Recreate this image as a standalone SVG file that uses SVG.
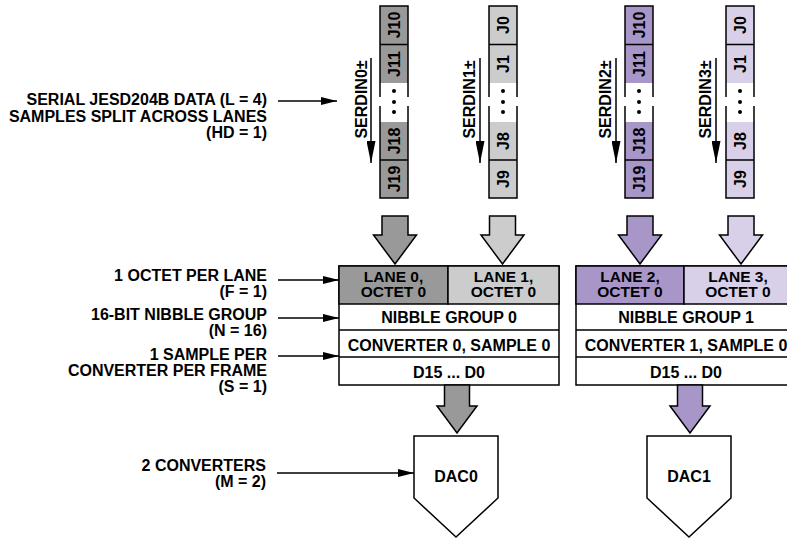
<svg xmlns="http://www.w3.org/2000/svg" width="787" height="539" viewBox="0 0 787 539">
<style>
text{font-family:"Liberation Sans",Arial,sans-serif;font-weight:bold;font-size:16px;fill:#000}
.r{text-anchor:end}
.m{text-anchor:middle}
.s{font-size:15.5px}
.ln{stroke:#000;stroke-width:1.5;fill:none}
.bx{stroke:#000;stroke-width:1.5}
.g0{fill:#999999}.g1{fill:#cccccc}.p0{fill:#a996c9}.p1{fill:#d8d0e8}
</style>
<defs>
<marker id="ah" markerUnits="userSpaceOnUse" markerWidth="16" markerHeight="8" refX="16" refY="4" orient="auto"><path d="M0,0 L16,4 L0,8 Z" fill="#000"/></marker>
<marker id="ah2" markerUnits="userSpaceOnUse" markerWidth="22" markerHeight="9" refX="22" refY="4.5" orient="auto"><path d="M0,0 L22,4.5 L0,9 Z" fill="#000"/></marker>
</defs>
<rect width="787" height="539" fill="#fff"/>

<g id="labels">
<text class="r" x="267" y="105">SERIAL JESD204B DATA (L = 4)</text>
<text class="r" x="267" y="121.5">SAMPLES SPLIT ACROSS LANES</text>
<text class="r" x="267" y="138">(HD = 1)</text>
<text class="r" x="267" y="281">1 OCTET PER LANE</text>
<text class="r" x="267" y="296.5">(F = 1)</text>
<text class="r" x="267" y="320">16-BIT NIBBLE GROUP</text>
<text class="r" x="267" y="336">(N = 16)</text>
<text class="r" x="267" y="360">1 SAMPLE PER</text>
<text class="r" x="267" y="376">CONVERTER PER FRAME</text>
<text class="r" x="267" y="391.5">(S = 1)</text>
<text class="r" x="266" y="471">2 CONVERTERS</text>
<text class="r" x="266" y="487">(M = 2)</text>
</g>

<g id="lane0">
<rect class="g0" x="380" y="6" width="28" height="77"/>
<rect class="g0" x="380" y="122" width="28" height="76"/>
<path class="ln" d="M380,97 V6 H408 V97 M380,106 V198 H408 V106 M380,44.5 H408 M380,160 H408"/>
<circle cx="394" cy="91" r="2"/><circle cx="394" cy="102" r="2"/><circle cx="394" cy="112" r="2"/>
<text class="m" transform="translate(399.5,25) rotate(-90)">J10</text>
<text class="m" transform="translate(399.5,64) rotate(-90)">J11</text>
<text class="m" transform="translate(399.5,141) rotate(-90)">J18</text>
<text class="m" transform="translate(399.5,179) rotate(-90)">J19</text>
<text class="m" transform="translate(367,99.5) rotate(-90)">SERDIN0±</text>
</g>
<g id="lane1">
<rect class="g1" x="489" y="6" width="28" height="77"/>
<rect class="g1" x="489" y="122" width="28" height="76"/>
<path class="ln" d="M489,97 V6 H517 V97 M489,106 V198 H517 V106 M489,44.5 H517 M489,160 H517"/>
<circle cx="503" cy="91" r="2"/><circle cx="503" cy="102" r="2"/><circle cx="503" cy="112" r="2"/>
<text class="m" transform="translate(508.5,25) rotate(-90)">J0</text>
<text class="m" transform="translate(508.5,64) rotate(-90)">J1</text>
<text class="m" transform="translate(508.5,141) rotate(-90)">J8</text>
<text class="m" transform="translate(508.5,179) rotate(-90)">J9</text>
<text class="m" transform="translate(475,99.5) rotate(-90)">SERDIN1±</text>
</g>
<g id="lane2">
<rect class="p0" x="625" y="6" width="28" height="77"/>
<rect class="p0" x="625" y="122" width="28" height="76"/>
<path class="ln" d="M625,97 V6 H653 V97 M625,106 V198 H653 V106 M625,44.5 H653 M625,160 H653"/>
<circle cx="639" cy="91" r="2"/><circle cx="639" cy="102" r="2"/><circle cx="639" cy="112" r="2"/>
<text class="m" transform="translate(644.5,25) rotate(-90)">J10</text>
<text class="m" transform="translate(644.5,64) rotate(-90)">J11</text>
<text class="m" transform="translate(644.5,141) rotate(-90)">J18</text>
<text class="m" transform="translate(644.5,179) rotate(-90)">J19</text>
<text class="m" transform="translate(611,99.5) rotate(-90)">SERDIN2±</text>
</g>
<g id="lane3">
<rect class="p1" x="726" y="6" width="28" height="77"/>
<rect class="p1" x="726" y="122" width="28" height="76"/>
<path class="ln" d="M726,97 V6 H754 V97 M726,106 V198 H754 V106 M726,44.5 H754 M726,160 H754"/>
<circle cx="740" cy="91" r="2"/><circle cx="740" cy="102" r="2"/><circle cx="740" cy="112" r="2"/>
<text class="m" transform="translate(745.5,25) rotate(-90)">J0</text>
<text class="m" transform="translate(745.5,64) rotate(-90)">J1</text>
<text class="m" transform="translate(745.5,141) rotate(-90)">J8</text>
<text class="m" transform="translate(745.5,179) rotate(-90)">J9</text>
<text class="m" transform="translate(711,99.5) rotate(-90)">SERDIN3±</text>
</g>

<g id="frame0">
<rect class="bx" x="339" y="266" width="220" height="119" fill="#fff"/>
<rect class="bx g0" x="339" y="266" width="109" height="38"/>
<rect class="bx g1" x="448" y="266" width="111" height="38"/>
<path class="ln" d="M339,330 H559 M339,357 H559"/>
<text class="m s" x="393.5" y="281.5">LANE 0,</text>
<text class="m s" x="393.5" y="297">OCTET 0</text>
<text class="m s" x="503.5" y="281.5">LANE 1,</text>
<text class="m s" x="503.5" y="297">OCTET 0</text>
<text class="m" x="449" y="323">NIBBLE GROUP 0</text>
<text class="m" x="449" y="351">CONVERTER 0, SAMPLE 0</text>
<text class="m" x="449" y="378">D15 ... D0</text>
</g>
<g id="frame1">
<rect class="bx" x="576" y="266" width="220" height="119" fill="#fff"/>
<rect class="bx p0" x="576" y="266" width="108" height="38"/>
<rect class="bx p1" x="684" y="266" width="112" height="38"/>
<path class="ln" d="M576,330 H796 M576,357 H796"/>
<text class="m s" x="630" y="281.5">LANE 2,</text>
<text class="m s" x="630" y="297">OCTET 0</text>
<text class="m s" x="738" y="281.5">LANE 3,</text>
<text class="m s" x="738" y="297">OCTET 0</text>
<text class="m" x="686" y="323">NIBBLE GROUP 1</text>
<text class="m" x="686" y="351">CONVERTER 1, SAMPLE 0</text>
<text class="m" x="686" y="378">D15 ... D0</text>
</g>

<g id="dac0">
<path class="bx" fill="#fff" d="M414,436 H498 V498 L456,537 L414,498 Z"/>
<text class="m" x="456" y="482">DAC0</text>
</g>
<g id="dac1">
<path class="bx" fill="#fff" d="M647,436 H731 V498 L689,537 L647,498 Z"/>
<text class="m" x="689" y="482">DAC1</text>
</g>

<g id="connectors">
<path class="ln" d="M278,101 H337" marker-end="url(#ah)"/>
<path class="ln" d="M278,280 H339" marker-end="url(#ah)"/>
<path class="ln" d="M278,318 H339" marker-end="url(#ah)"/>
<path class="ln" d="M278,356 H339" marker-end="url(#ah)"/>
<path class="ln" d="M277,473 H414" marker-end="url(#ah)"/>
<path class="ln" d="M371,58 V163" marker-end="url(#ah2)"/>
<path class="ln" d="M480,58 V163" marker-end="url(#ah2)"/>
<path class="ln" d="M616,58 V163" marker-end="url(#ah2)"/>
<path class="ln" d="M716,58 V163" marker-end="url(#ah2)"/>
<path class="bx g0" d="M382,216 H408 V235 H416.5 L395,264 L373.5,235 H382 Z"/>
<path class="bx g1" d="M489.5,216 H515.5 V235 H524 L502.5,264 L481,235 H489.5 Z"/>
<path class="bx p0" d="M627,216 H653 V235 H661.5 L640,264 L618.5,235 H627 Z"/>
<path class="bx p1" d="M728,216 H754 V235 H762.5 L741,264 L719.5,235 H728 Z"/>
<path class="bx g0" d="M444.5,385 H469.5 V406 H477 L457,433 L437,406 H444.5 Z"/>
<path class="bx p0" d="M677.5,385 H702.5 V406 H710 L690,433 L670,406 H677.5 Z"/>
</g>
</svg>
